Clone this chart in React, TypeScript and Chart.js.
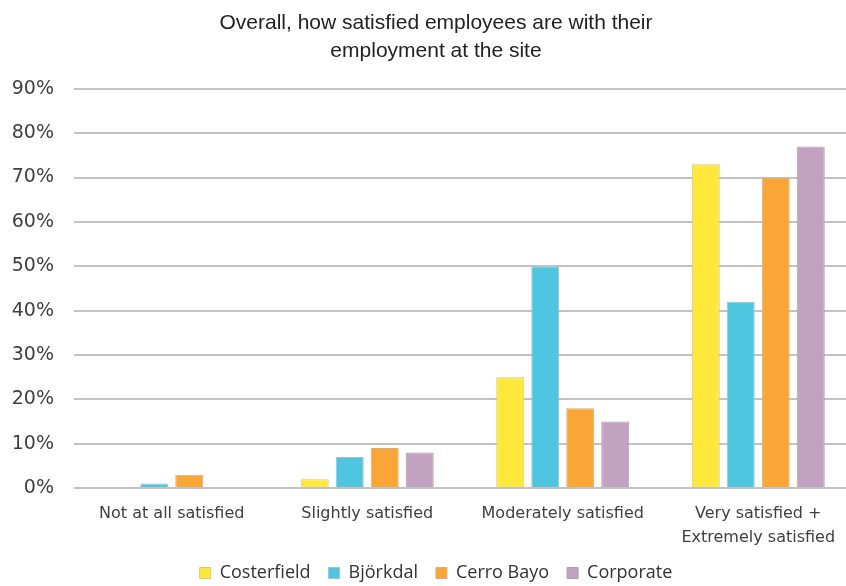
import React, { useEffect, useRef } from "react";
import { Chart, registerables } from "chart.js";

Chart.register(...registerables);

const categories: (string | string[])[] = [
  "Not at all satisfied",
  "Slightly satisfied",
  "Moderately satisfied",
  ["Very satisfied +", "Extremely satisfied"],
];

const costerfield = [0, 2, 25, 73];
const bjorkdal = [1, 7, 50, 42];
const cerroBayo = [3, 9, 18, 70];
const corporate = [0, 8, 15, 77];

const seriesNames = ["Costerfield", "Björkdal", "Cerro Bayo", "Corporate"];
const seriesColors = ["#FFE83C", "#4EC6E0", "#F9A637", "#C3A1C0"];
const seriesBorders = ["#D6C97A", "#A9BFC6", "#D3AE86", "#B09BAE"];

const yTicks = [0, 10, 20, 30, 40, 50, 60, 70, 80, 90];

export default function App() {
  const ref = useRef<HTMLCanvasElement | null>(null);

  useEffect(() => {
    if (!ref.current) return;
    const values = [costerfield, bjorkdal, cerroBayo, corporate];
    const chart = new Chart(ref.current, {
      type: "bar",
      data: {
        labels: categories,
        datasets: seriesNames.map((name, i) => ({
          label: name,
          data: values[i],
          backgroundColor: seriesColors[i],
          borderColor: seriesBorders[i],
          borderWidth: 1,
          barPercentage: 0.8,
          categoryPercentage: 0.716,
          yAxisID: "y",
        })),
      },
      options: {
        responsive: false,
        animation: false,
        layout: { padding: { left: 0, right: 0, top: 9, bottom: -6 } },
        plugins: {
          title: {
            display: true,
            text: ["Overall, how satisfied employees are with their", "employment at the site"],
            color: "#222222",
            font: { family: "Liberation Sans", size: 21, weight: "normal", lineHeight: 1.33 },
            padding: { top: 0, bottom: 24 },
          },
          legend: {
            position: "bottom",
            labels: {
              boxWidth: 11,
              boxHeight: 11,
              color: "#333333",
              font: { family: "Open Sans", size: 18 },
              padding: 18,
            },
          },
          tooltip: { enabled: false },
        },
        scales: {
          x: {
            grid: { display: false },
            border: { display: false },
            afterFit: (scale: any) => {
              scale.height = 58;
            },
            ticks: {
              color: "#404040",
              font: { family: "DejaVu Sans", size: 16, lineHeight: 1.5 },
              padding: 6,
              maxRotation: 0,
              autoSkip: false,
            },
          },
          y: {
            min: 0,
            max: 90,
            afterFit: (scale: any) => {
              scale.width = 74;
            },
            afterBuildTicks: (scale: any) => {
              scale.ticks = yTicks.map((v) => ({ value: v }));
            },
            grid: { color: "#C2C2C2", lineWidth: 2, drawTicks: false },
            border: { display: false },
            ticks: {
              color: "#404040",
              font: { family: "DejaVu Sans", size: 19 },
              padding: 20,
              callback: (v: any) => v + "%",
            },
          },
          y2: {
            type: "linear",
            position: "right",
            min: 0,
            max: 90,
            grid: { display: false, drawTicks: false },
            border: { display: false },
            ticks: { display: false },
            afterFit: (scale: any) => {
              scale.width = 16;
            },
          },
        },
      },
    });
    return () => chart.destroy();
  }, []);

  return (
    <div
      style={{
        position: "absolute",
        left: 0,
        top: 0,
        width: 846,
        height: 586,
        overflow: "hidden",
        background: "#ffffff",
      }}
    >
      <canvas ref={ref} width={872} height={586} style={{ display: "block" }} />
    </div>
  );
}
